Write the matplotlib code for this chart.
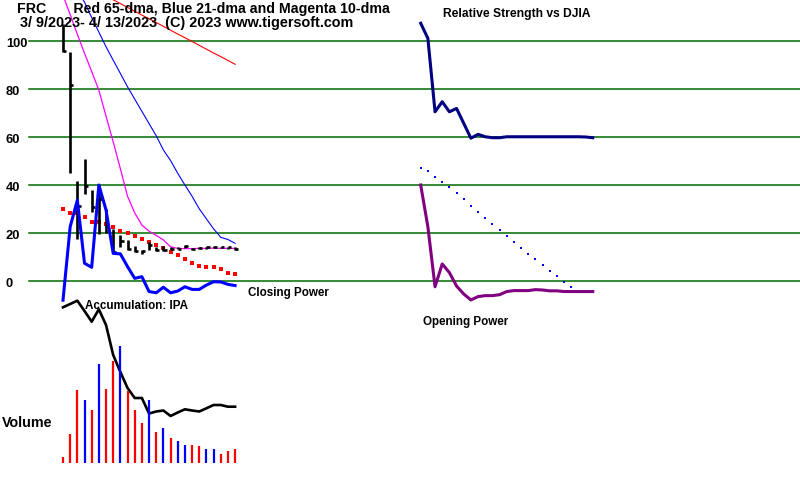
import matplotlib
matplotlib.use('Agg')
import matplotlib.pyplot as plt
import numpy as np

# ---------------- data ----------------
dates = ['3/9', '3/10', '3/13', '3/14', '3/15', '3/16', '3/17', '3/20', '3/21', '3/22',
         '3/23', '3/24', '3/27', '3/28', '3/29', '3/30', '3/31', '4/3', '4/4', '4/5',
         '4/6', '4/10', '4/11', '4/12', '4/13']
high = [107.0, 95.5, 41.7, 50.7, 37.9, 40.0, 30.0, 21.5, 19.0, 17.0, 14.7, 13.0, 16.4,
        14.3, 14.7, 14.3, 14.0, 15.0, 13.6, 14.0, 14.3, 14.5, 14.3, 14.3, 14.0]
low = [95.5, 44.9, 17.4, 36.3, 28.9, 19.5, 20.0, 11.5, 14.0, 13.0, 12.0, 11.2, 13.0,
       12.3, 12.3, 12.9, 13.3, 13.6, 12.9, 13.2, 13.4, 13.6, 13.6, 13.4, 12.9]
close = [96.0, 81.7, 31.2, 39.7, 31.0, 34.3, 23.0, 12.2, 16.8, 13.5, 12.4, 12.4, 15.0,
         13.0, 13.0, 13.5, 13.5, 14.5, 13.2, 13.6, 14.0, 14.2, 14.0, 14.0, 13.5]
ma65 = [128.2, 126.6, 125.1, 123.5, 121.9, 120.3, 118.7, 117.2, 115.6, 114.0, 112.4,
        110.8, 109.3, 107.7, 106.1, 104.5, 102.9, 101.4, 99.8, 98.2, 96.6, 95.0, 93.5,
        91.9, 90.3]
ma21 = [130.0, 126.0, 121.0, 116.2, 109.8, 103.7, 97.6, 92.0, 86.5, 80.9, 75.8, 70.7,
        65.6, 60.5, 54.6, 50.2, 44.9, 40.0, 35.3, 30.1, 25.9, 21.75, 18.2, 17.3, 15.7]
ma10 = [119.0, 111.0, 102.8, 94.9, 87.3, 79.5, 68.7, 58.0, 46.8, 35.3, 28.4, 23.3,
        20.75, 19.0, 17.1, 14.25, 13.6, 13.5, 13.5, 13.6, 13.6, 13.7, 13.6, 13.6, 13.6]
red_dots = [30.0, 28.5, 28.5, 26.8, 24.7, 24.7, 23.75, 22.4, 20.8, 20.1, 18.75, 17.6,
            16.4, 15.0, 13.6, 12.2, 10.8, 9.2, 7.6, 6.25, 6.0, 5.8, 5.1, 3.5, 3.06]
closing_power = [-8.0, 22.6, 33.7, 7.4, 5.7, 40.0, 29.6, 11.5, 11.3, 6.0, 1.1, 1.8,
                 -4.4, -4.9, -2.6, -4.9, -4.2, -2.4, -3.5, -3.5, -1.7, -0.3, -0.4, -1.4, -1.9]
ipa = [11.27, 11.6, 11.93, 10.9, 9.83, 11.07, 9.5, 6.5, 4.8, 3.2, 2.2, 2.2, 0.65, 0.85,
       0.95, 0.4, 0.75, 1.07, 0.95, 0.85, 1.17, 1.5, 1.5, 1.33, 1.33]
volume = [9, 43, 110, 95, 79, 148, 111, 153, 175, 108, 79, 60, 95, 47, 53, 38, 33, 27,
          27, 26, 21, 21, 14, 18, 21]
vol_up = [0, 0, 0, 1, 0, 1, 0, 0, 1, 0, 0, 0, 1, 0, 1, 0, 1, 1, 0, 0, 1, 1, 0, 0, 0]
rel_strength = [107.4, 101.1, 70.5, 74.7, 70.5, 71.9, 65.7, 59.5, 61.1, 60.1, 59.7, 59.7,
                60.1, 60.1, 60.1, 60.1, 60.1, 60.1, 60.1, 60.1, 60.1, 60.1, 60.1, 60.0, 59.7]
opening_power = [40.0, 22.6, -2.4, 7.1, 3.5, -2.1, -5.4, -7.9, -6.5, -6.1, -6.1, -5.7,
                 -4.4, -4.0, -4.0, -4.0, -3.6, -3.75, -4.1, -4.1, -4.4, -4.4, -4.4, -4.4, -4.4]
op_dots = [47.2, 46.0, 43.5, 41.4, 39.3, 36.8, 34.2, 31.4, 28.75, 26.25, 23.9, 21.25,
           18.75, 16.25, 13.75, 11.25, 9.2, 6.7, 4.3, 2.1, -0.4, -2.4, -4.0, -4.0, -4.6]
grid_levels = [0, 20, 40, 60, 80, 100]
grid_labels = ['0', '20', '40', '60', '80', '100']

# ---------------- layout ----------------
W, H = 800, 479
fig = plt.figure(figsize=(W / 100, H / 100), dpi=100)
fig.patch.set_facecolor('white')
FONT = 'Liberation Sans'


def make_ax(x0px, xstep, y0px, ystep):
    ax = fig.add_axes([0, 0, 1, 1])
    ax.set_xlim(-x0px / xstep, (W - x0px) / xstep)
    ax.set_ylim((y0px - H) / ystep, y0px / ystep)
    ax.axis('off')
    ax.patch.set_alpha(0)
    return ax


DX = 7.17
days = np.arange(len(dates))
axp = make_ax(63, DX, 281, 2.4)        # price panel
axr = make_ax(420.7, DX, 281, 2.4)     # relative strength / opening power panel
axa = make_ax(63, DX, 420, 10)         # accumulation
axv = make_ax(63, DX, 463, 1 / 1.5)    # volume

green = '#006a00'
for lv in grid_levels:
    axp.axhline(lv, xmin=29 / W, xmax=1.0, color=green, lw=1.1, zorder=1)
for lv, lab in zip(grid_levels, grid_labels):
    axp.text(6 / W, lv - 1.3, lab, transform=axp.get_yaxis_transform(),
             ha='left', va='center', fontsize=9.3, fontweight='bold', family=FONT)

# moving averages
axp.plot(days, ma65, color='#ff0000', lw=0.8, zorder=3)
axp.plot(days, ma21, color='#0000ff', lw=0.8, zorder=3)
axp.plot(days, ma10, color='#ff00ff', lw=0.9, zorder=3)
axp.plot(days, red_dots, ls='none', marker='s', ms=2.2, mew=0, color='#ff0000', zorder=4)

# price bars
axp.vlines(days, low, high, color='black', lw=1.9, zorder=5)
axp.hlines(close, days, days + 0.45, color='black', lw=1.9, zorder=5)

# closing power
axp.plot(days, closing_power, color='#0000ff', lw=2.2, zorder=6)

# relative strength & opening power
axr.plot(days, rel_strength, color='#000080', lw=2.2, zorder=5)
axr.plot(days, opening_power, color='#800080', lw=2.2, zorder=5)
axr.plot(days, op_dots, ls='none', marker='s', ms=2.0, mew=0, color='#0000ff', zorder=4)

# accumulation
axa.plot(days, ipa, color='black', lw=1.9, zorder=6)

# volume
vcols = ['#0000ff' if u else '#ff0000' for u in vol_up]
axv.vlines(days, 0, volume, colors=vcols, lw=1.6, zorder=4)

# texts (pixel positions converted to figure fractions)
def ftext(xpx, ypx, s, **kw):
    fig.text(xpx / W, 1 - ypx / H, s, ha='left', va='center', family=FONT,
             fontweight='bold', zorder=10, **kw)

ftext(17, 8.5, 'FRC       Red 65-dma, Blue 21-dma and Magenta 10-dma', fontsize=10.2)
ftext(20, 22.5, '3/ 9/2023- 4/ 13/2023  (C) 2023 www.tigersoft.com', fontsize=10.4)
ftext(442.7, 14, 'Relative Strength vs DJIA', fontsize=8.7)
ftext(248, 293, 'Closing Power', fontsize=8.4)
ftext(85, 306, 'Accumulation: IPA', fontsize=8.4)
ftext(2, 423, 'Volume', fontsize=10.3)
ftext(422.7, 322, 'Opening Power', fontsize=8.4)

fig.savefig('out.png', dpi=100, facecolor='white')
